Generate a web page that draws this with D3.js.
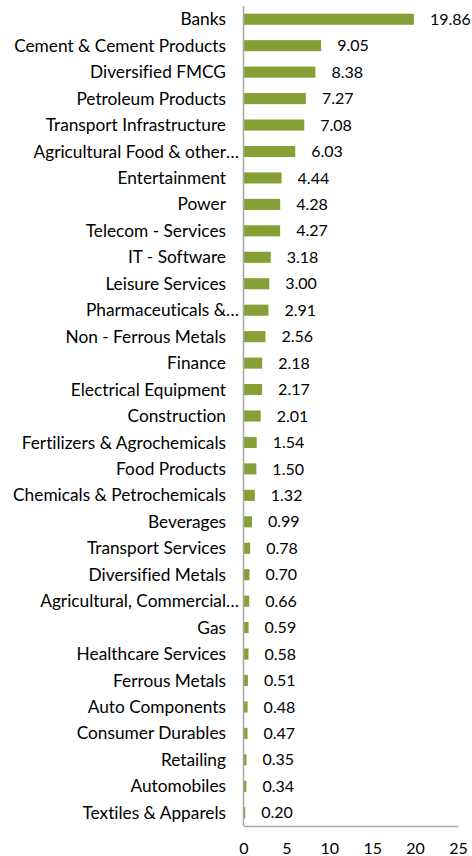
<!DOCTYPE html>
<html>
<head>
<meta charset="utf-8">
<script src="https://cdn.jsdelivr.net/npm/d3@7"></script>
<style>
html,body{margin:0;padding:0;background:#fff;}
svg{display:block;}
text{font-family:Lato,"Open Sans",sans-serif;fill:#000;font-variant-ligatures:none;font-feature-settings:"liga" 0;}
</style>
</head>
<body>
<svg id="chart" width="472" height="856"></svg>
<script>
const categories = ["Banks","Cement & Cement Products","Diversified FMCG","Petroleum Products","Transport Infrastructure","Agricultural Food & other…","Entertainment","Power","Telecom - Services","IT - Software","Leisure Services","Pharmaceuticals &…","Non - Ferrous Metals","Finance","Electrical Equipment","Construction","Fertilizers & Agrochemicals","Food Products","Chemicals & Petrochemicals","Beverages","Transport Services","Diversified Metals","Agricultural, Commercial…","Gas","Healthcare Services","Ferrous Metals","Auto Components","Consumer Durables","Retailing","Automobiles","Textiles & Apparels"];
const values = [19.86,9.05,8.38,7.27,7.08,6.03,4.44,4.28,4.27,3.18,3.00,2.91,2.56,2.18,2.17,2.01,1.54,1.50,1.32,0.99,0.78,0.70,0.66,0.59,0.58,0.51,0.48,0.47,0.35,0.34,0.20];
const xTicks = [0,5,10,15,20,25];

const svg = d3.select("#chart");
const x = d3.scaleLinear().domain([0,25]).range([243.5,458]);
const y = d3.scaleBand().domain(categories).range([6,826]).paddingInner(0.58).paddingOuter(0.29);
const fsLabel = 17.3;
const fsNum = 16;

svg.selectAll("rect.bar").data(values).join("rect")
  .attr("class","bar")
  .attr("x", x(0))
  .attr("y",(d,i)=>y(categories[i]))
  .attr("width",d=>x(d)-x(0))
  .attr("height",y.bandwidth())
  .attr("fill","#87a036");

// axes
const yAxis = d3.axisLeft(y).tickSize(0).tickFormat("");
const gy = svg.append("g").attr("transform",`translate(${x(0)},0)`).call(yAxis);
gy.select(".domain").attr("stroke","#a6a6a6").attr("stroke-width",1.5).attr("d",`M0,6V826`);

const xAxis = d3.axisBottom(x).tickValues(xTicks).tickSize(0).tickPadding(17);
const gx = svg.append("g").attr("transform",`translate(0,826)`).call(xAxis);
gx.select(".domain").attr("stroke","#a6a6a6").attr("stroke-width",1.5);
gx.selectAll("text").style("font-size",fsNum+"px").style("font-family","Lato").attr("fill","#000");

// category labels
const labelG = svg.append("g");
categories.forEach((c,i)=>{
  const cy = y(c)+y.bandwidth()/2;
  const trunc = c.endsWith("…");
  labelG.append("text")
    .attr("x",226).attr("y",cy).attr("dy","0.35em")
    .attr("text-anchor","end")
    .style("font-size",fsLabel+"px")
    .text(trunc ? c.slice(0,-1) : c);
  if(trunc){
    labelG.append("text")
      .attr("x",226).attr("y",cy).attr("dy","0.35em")
      .attr("text-anchor","start")
      .style("font-size",fsLabel+"px")
      .text("…");
  }
});

// value labels
svg.selectAll("text.val").data(values).join("text")
  .attr("class","val")
  .attr("x",d=>x(d)+16)
  .attr("y",(d,i)=>y(categories[i])+y.bandwidth()/2)
  .attr("dy","0.35em")
  .style("font-size",fsNum+"px")
  .text(d=>d.toFixed(2));
</script>
</body>
</html>
